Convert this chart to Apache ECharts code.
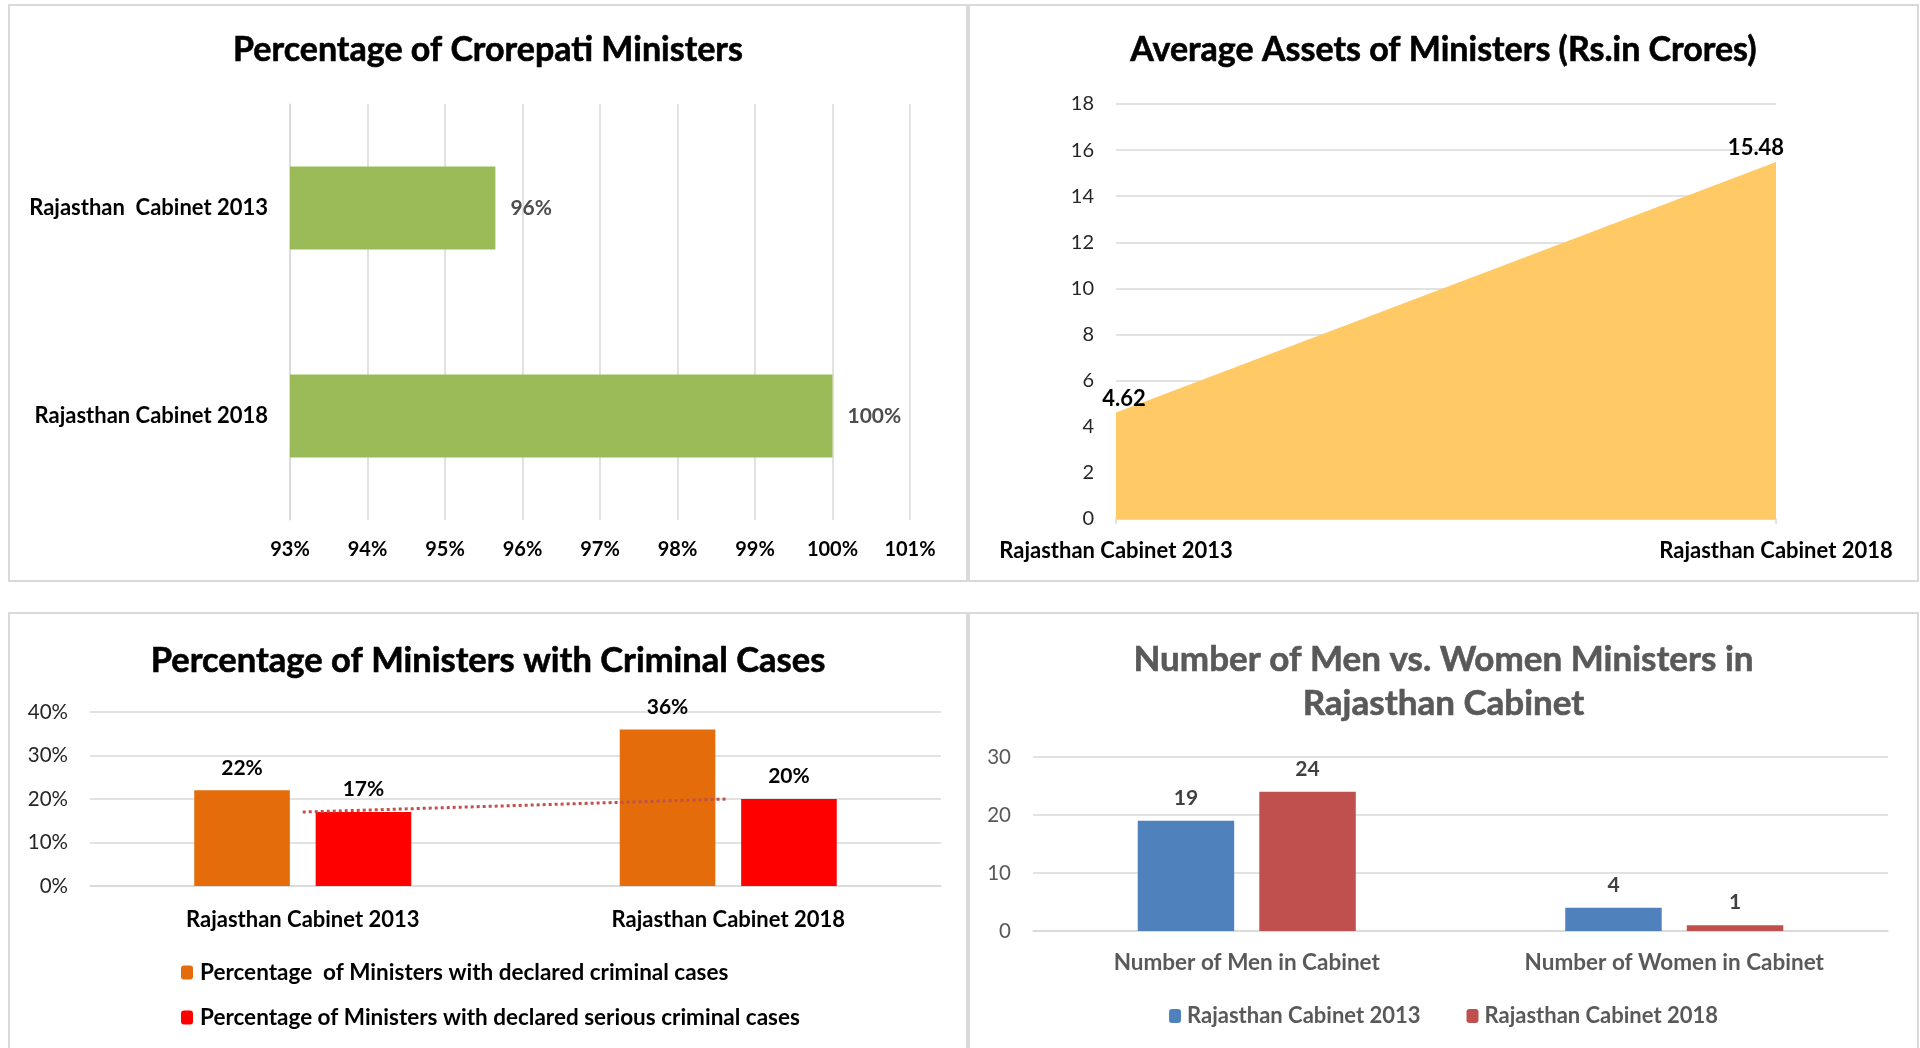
<!DOCTYPE html>
<html>
<head>
<meta charset="utf-8">
<title>Rajasthan Cabinet</title>
<script src="https://cdn.jsdelivr.net/npm/echarts@6/dist/echarts.min.js"></script>
<style>
  html, body { margin: 0; padding: 0; background: #fff; overflow: hidden; }
  .panel { position: absolute; border: 2px solid #d9d9d9; box-sizing: border-box; background: #fff; }
</style>
</head>
<body>
<div id="chart_crore" class="panel" style="left:8px;top:4px;width:960px;height:578px"></div>
<div id="chart_assets" class="panel" style="left:968px;top:4px;width:951px;height:578px"></div>
<div id="chart_crime" class="panel" style="left:8px;top:612px;width:960px;height:444px"></div>
<div id="chart_gender" class="panel" style="left:968px;top:612px;width:951px;height:444px"></div>

<script>
    // data
    const croreCats = ['Rajasthan  Cabinet 2013', 'Rajasthan Cabinet 2018']
    const crorePct = [95.65, 100]

    const assetCats = ['Rajasthan Cabinet 2013', 'Rajasthan Cabinet 2018']
    const assetVals = [4.62, 15.48]

    const crimeCats = ['Rajasthan Cabinet 2013', 'Rajasthan Cabinet 2018']
    const crimeNames = ['Percentage  of Ministers with declared criminal cases', 'Percentage of Ministers with declared serious criminal cases']
    const crimeAll = [22, 36]
    const crimeSerious = [17, 20]

    const genderCats = ['Number of Men in Cabinet', 'Number of Women in Cabinet']
    const genderNames = ['Rajasthan Cabinet 2013', 'Rajasthan Cabinet 2018']
    const cabinet2013 = [19, 4]
    const cabinet2018 = [24, 1]

    const FONT = 'Lato'
    const GRID_COLOR = '#d9d9d9'

    // titles a bit heavier than plain Lato Bold
    function titleStyle(size, color) {
        return {fontFamily: FONT, fontSize: size, fontWeight: 'bold', color: color,
            textBorderColor: color, textBorderWidth: 0.6}
    }

    // 1. crorepati ministers (horizontal bars)
    let c1 = echarts.init(document.getElementById('chart_crore'))
    c1.setOption({
        animation: false,
        textStyle: {fontFamily: FONT},
        title: {
            text: 'Percentage of Crorepati Ministers',
            left: 'center', top: 22,
            textStyle: titleStyle(34, '#000')
        },
        grid: {left: 280, right: 56, top: 98, bottom: 60},
        xAxis: {
            type: 'value', min: 93, max: 101, interval: 1,
            axisLine: {show: false}, axisTick: {show: false},
            splitLine: {lineStyle: {color: GRID_COLOR, width: 1.5}},
            axisLabel: {formatter: '{value}%', margin: 20, color: '#000', fontWeight: 'bold', fontSize: 20, fontFamily: FONT}
        },
        yAxis: {
            type: 'category', inverse: true, data: croreCats,
            axisLine: {lineStyle: {color: GRID_COLOR, width: 1.5}},
            axisTick: {length: 5, lineStyle: {color: GRID_COLOR, width: 1.5}},
            axisLabel: {margin: 22, color: '#000', fontWeight: 'bold', fontSize: 22, fontFamily: FONT}
        },
        series: [{
            type: 'bar', data: crorePct, barCategoryGap: '60%',
            itemStyle: {color: '#9BBB59'},
            label: {
                show: true, position: 'right', distance: 15,
                formatter: p => Math.round(p.value) + '%',
                color: '#4d4d4d', fontWeight: 'bold', fontSize: 21, fontFamily: FONT
            }
        }]
    })

    // 2. average assets (area)
    let c2 = echarts.init(document.getElementById('chart_assets'))
    c2.setOption({
        animation: false,
        textStyle: {fontFamily: FONT},
        title: {
            text: 'Average Assets of Ministers (Rs.in Crores)',
            left: 'center', top: 22,
            textStyle: titleStyle(34, '#000')
        },
        grid: {left: 146, right: 141, top: 98, bottom: 61},
        xAxis: {
            type: 'category', boundaryGap: false, data: assetCats,
            axisLine: {lineStyle: {color: GRID_COLOR, width: 1.5}},
            axisTick: {length: 5, lineStyle: {color: GRID_COLOR, width: 1.5}},
            axisLabel: {margin: 21, color: '#000', fontWeight: 'bold', fontSize: 22, fontFamily: FONT}
        },
        yAxis: {
            type: 'value', min: 0, max: 18, interval: 2,
            axisLine: {show: false}, axisTick: {show: false},
            splitLine: {lineStyle: {color: GRID_COLOR, width: 1.5}},
            axisLabel: {margin: 22, color: '#262626', fontSize: 20, fontFamily: FONT}
        },
        series: [{
            type: 'line',
            data: assetVals.map((v, i) => ({value: v, label: {offset: i === 0 ? [8, 0] : [-20, 0]}})),
            symbol: 'circle', symbolSize: 0,
            lineStyle: {width: 0},
            itemStyle: {color: '#FFCA66'},
            areaStyle: {color: '#FFCA66', opacity: 1},
            label: {show: true, position: 'top', distance: 3, color: '#000', fontWeight: 'bold', fontSize: 22, fontFamily: FONT}
        }]
    })

    // 3. criminal cases (grouped columns + dotted trend on serious cases)
    let c3 = echarts.init(document.getElementById('chart_crime'))
    c3.setOption({
        animation: false,
        textStyle: {fontFamily: FONT},
        title: {
            text: 'Percentage of Ministers with Criminal Cases',
            left: 'center', top: 24,
            textStyle: titleStyle(34.5, '#000')
        },
        legend: {
            data: crimeNames, orient: 'vertical', left: 166, top: 342,
            itemWidth: 12, itemHeight: 14, itemGap: 22,
            textStyle: {color: '#000', fontWeight: 'bold', fontSize: 22.5, fontFamily: FONT, padding: [0, 0, 0, 2]}
        },
        grid: {left: 80, right: 25, top: 98, bottom: 168},
        xAxis: {
            type: 'category', data: crimeCats,
            axisLine: {lineStyle: {color: GRID_COLOR, width: 1.5}},
            axisTick: {show: false},
            axisLabel: {margin: 23, color: '#000', fontWeight: 'bold', fontSize: 22, fontFamily: FONT}
        },
        yAxis: {
            type: 'value', min: 0, max: 40, interval: 10,
            axisLine: {show: false}, axisTick: {show: false},
            splitLine: {lineStyle: {color: GRID_COLOR, width: 1.5}},
            axisLabel: {formatter: '{value}%', margin: 22, color: '#262626', fontSize: 20.5, fontFamily: FONT}
        },
        series: [
            {
                name: crimeNames[0], type: 'bar', data: crimeAll,
                barGap: '27%', barCategoryGap: '49%',
                itemStyle: {color: '#E46C0A'},
                label: {show: true, position: 'top', distance: 12, formatter: '{c}%', color: '#000', fontWeight: 'bold', fontSize: 21, fontFamily: FONT}
            },
            {
                name: crimeNames[1], type: 'bar', data: crimeSerious,
                itemStyle: {color: '#FF0000'},
                label: {show: true, position: 'top', distance: 12, formatter: '{c}%', color: '#000', fontWeight: 'bold', fontSize: 21, fontFamily: FONT}
            },
            {
                // linear trendline of the serious cases
                type: 'line', data: crimeSerious, symbol: 'none', z: 5,
                lineStyle: {type: 'dotted', color: '#C0504D', width: 3}
            }
        ]
    })

    // 4. men vs women ministers
    let c4 = echarts.init(document.getElementById('chart_gender'))
    let t4 = titleStyle(35, '#595959')
    t4.lineHeight = 44
    c4.setOption({
        animation: false,
        textStyle: {fontFamily: FONT},
        title: {
            text: 'Number of Men vs. Women Ministers in\nRajasthan Cabinet',
            left: 'center', top: 19,
            textStyle: t4
        },
        legend: {
            data: genderNames, bottom: 22, left: 'center',
            itemWidth: 12, itemHeight: 14, itemGap: 46,
            textStyle: {color: '#595959', fontWeight: 'bold', fontSize: 22, fontFamily: FONT, padding: [0, 0, 0, 1]}
        },
        grid: {left: 63, right: 29, top: 143, bottom: 123},
        xAxis: {
            type: 'category', data: genderCats,
            axisLine: {lineStyle: {color: GRID_COLOR, width: 1.5}},
            axisTick: {show: false},
            axisLabel: {margin: 20, color: '#595959', fontWeight: 'bold', fontSize: 22.5, fontFamily: FONT}
        },
        yAxis: {
            type: 'value', min: 0, max: 30, interval: 10,
            axisLine: {show: false}, axisTick: {show: false},
            splitLine: {lineStyle: {color: GRID_COLOR, width: 1.5}},
            axisLabel: {margin: 22, color: '#595959', fontSize: 20.5, fontFamily: FONT}
        },
        series: [
            {
                name: genderNames[0], type: 'bar', data: cabinet2013,
                barGap: '26%', barCategoryGap: '49%',
                itemStyle: {color: '#4F81BD'},
                label: {show: true, position: 'top', distance: 12, color: '#404040', fontWeight: 'bold', fontSize: 21, fontFamily: FONT}
            },
            {
                name: genderNames[1], type: 'bar', data: cabinet2018,
                itemStyle: {color: '#C0504D'},
                label: {show: true, position: 'top', distance: 12, color: '#404040', fontWeight: 'bold', fontSize: 21, fontFamily: FONT}
            }
        ]
    })
</script>
</body>
</html>
